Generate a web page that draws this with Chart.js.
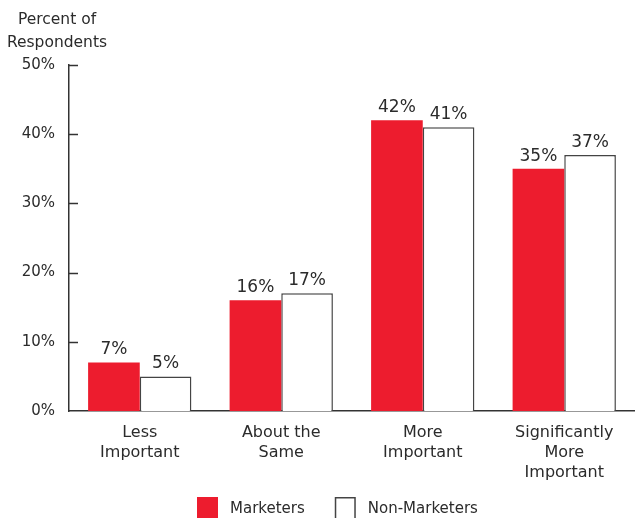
<!DOCTYPE html>
<html lang="en">
<head>
  <meta charset="UTF-8">
  <title>Percent of Respondents</title>
  <script src="https://cdn.jsdelivr.net/npm/chart.js"></script>
  <style>
    html, body { margin: 0; padding: 0; background: #fff; overflow: hidden; }
  </style>
</head>
<body>
  <canvas id="respChart" width="635" height="518"></canvas>

  <script>
    // chart data
    const categories = [
      ['Less', 'Important'],
      ['About the', 'Same'],
      ['More', 'Important'],
      ['Significantly', 'More', 'Important']
    ];
    const marketers = [7, 16, 42, 35];
    const nonMarketers = [5, 17, 41, 37];
    const seriesNames = ['Marketers', 'Non-Marketers'];
    const yTicks = [0, 10, 20, 30, 40, 50];
    const yTitle = ['Percent of', 'Respondents'];

    const textColor = '#2b2b2b';
    const fontFamily = '"DejaVu Sans", sans-serif';

    // y axis ticks point inward, title sits above the axis
    const axisExtras = {
      id: 'axisExtras',
      afterDraw(chart) {
        const ctx = chart.ctx;
        const y = chart.scales.y;
        const left = chart.chartArea.left;
        ctx.save();
        ctx.strokeStyle = '#333';
        ctx.lineWidth = 1.5;
        yTicks.forEach(function (v) {
          if (v === 0) return;
          const py = Math.round(y.getPixelForValue(v)) + 0.5;
          ctx.beginPath();
          ctx.moveTo(left, py);
          ctx.lineTo(left + 9, py);
          ctx.stroke();
        });
        ctx.fillStyle = textColor;
        ctx.font = '15.5px ' + fontFamily;
        ctx.textAlign = 'center';
        ctx.textBaseline = 'middle';
        ctx.fillText(yTitle[0], 57, 20);
        ctx.fillText(yTitle[1], 57, 43);
        ctx.restore();
      }
    };

    // value labels above each bar
    const barLabels = {
      id: 'barLabels',
      afterDatasetsDraw(chart) {
        const ctx = chart.ctx;
        ctx.save();
        ctx.fillStyle = textColor;
        ctx.font = '17px ' + fontFamily;
        ctx.textAlign = 'center';
        ctx.textBaseline = 'bottom';
        chart.data.datasets.forEach(function (ds, i) {
          const meta = chart.getDatasetMeta(i);
          meta.data.forEach(function (bar, j) {
            ctx.fillText(ds.data[j] + '%', bar.x, bar.y - 4);
          });
        });
        ctx.restore();
      }
    };

    // legend along the bottom edge
    const bottomLegend = {
      id: 'bottomLegend',
      afterDraw(chart) {
        const ctx = chart.ctx;
        ctx.save();
        ctx.font = '15px ' + fontFamily;
        ctx.textBaseline = 'middle';
        ctx.textAlign = 'left';
        let x = chart.chartArea.left + 128;
        const top = 497;
        chart.data.datasets.forEach(function (ds) {
          ctx.fillStyle = ds.backgroundColor;
          ctx.fillRect(x, top, 21, 21);
          if (ds.borderWidth) {
            ctx.strokeStyle = ds.borderColor;
            ctx.lineWidth = ds.borderWidth;
            ctx.strokeRect(x + 0.75, top + 0.75, 19.5, 21);
          }
          ctx.fillStyle = textColor;
          ctx.fillText(ds.label, x + 33, top + 12);
          x += 33 + ctx.measureText(ds.label).width + 30;
        });
        ctx.restore();
      }
    };

    const ctx = document.getElementById('respChart').getContext('2d');
    new Chart(ctx, {
      type: 'bar',
      data: {
        labels: categories,
        datasets: [{
          label: seriesNames[0],
          data: marketers,
          backgroundColor: '#ED1C2E',
          borderWidth: 0
        }, {
          label: seriesNames[1],
          data: nonMarketers,
          backgroundColor: '#ffffff',
          borderColor: '#444',
          borderWidth: 1.5
        }]
      },
      options: {
        responsive: false,
        animation: false,
        layout: { padding: { top: 65, left: 0, right: 0, bottom: 0 } },
        datasets: {
          bar: { categoryPercentage: 0.73, barPercentage: 1.0 }
        },
        scales: {
          x: {
            afterFit(scale) { scale.height = 107; },
            grid: { display: false, drawTicks: false },
            border: { color: '#333', width: 1.5 },
            ticks: {
              color: textColor,
              padding: 12,
              font: { family: fontFamily, size: 16, lineHeight: 1.25 },
              maxRotation: 0
            }
          },
          y: {
            min: 0,
            max: 50,
            afterFit(scale) { scale.width = 69; },
            afterBuildTicks(scale) { scale.ticks = yTicks.map(function (v) { return { value: v }; }); },
            grid: { display: false, drawTicks: false },
            border: { color: '#333', width: 1.5 },
            ticks: {
              color: textColor,
              padding: 14,
              font: { family: fontFamily, size: 15 },
              callback: function (v) { return v + '%'; }
            }
          }
        },
        plugins: {
          tooltip: { enabled: false },
          legend: { display: false }
        }
      },
      plugins: [axisExtras, barLabels, bottomLegend]
    });
  </script>
</body>
</html>
